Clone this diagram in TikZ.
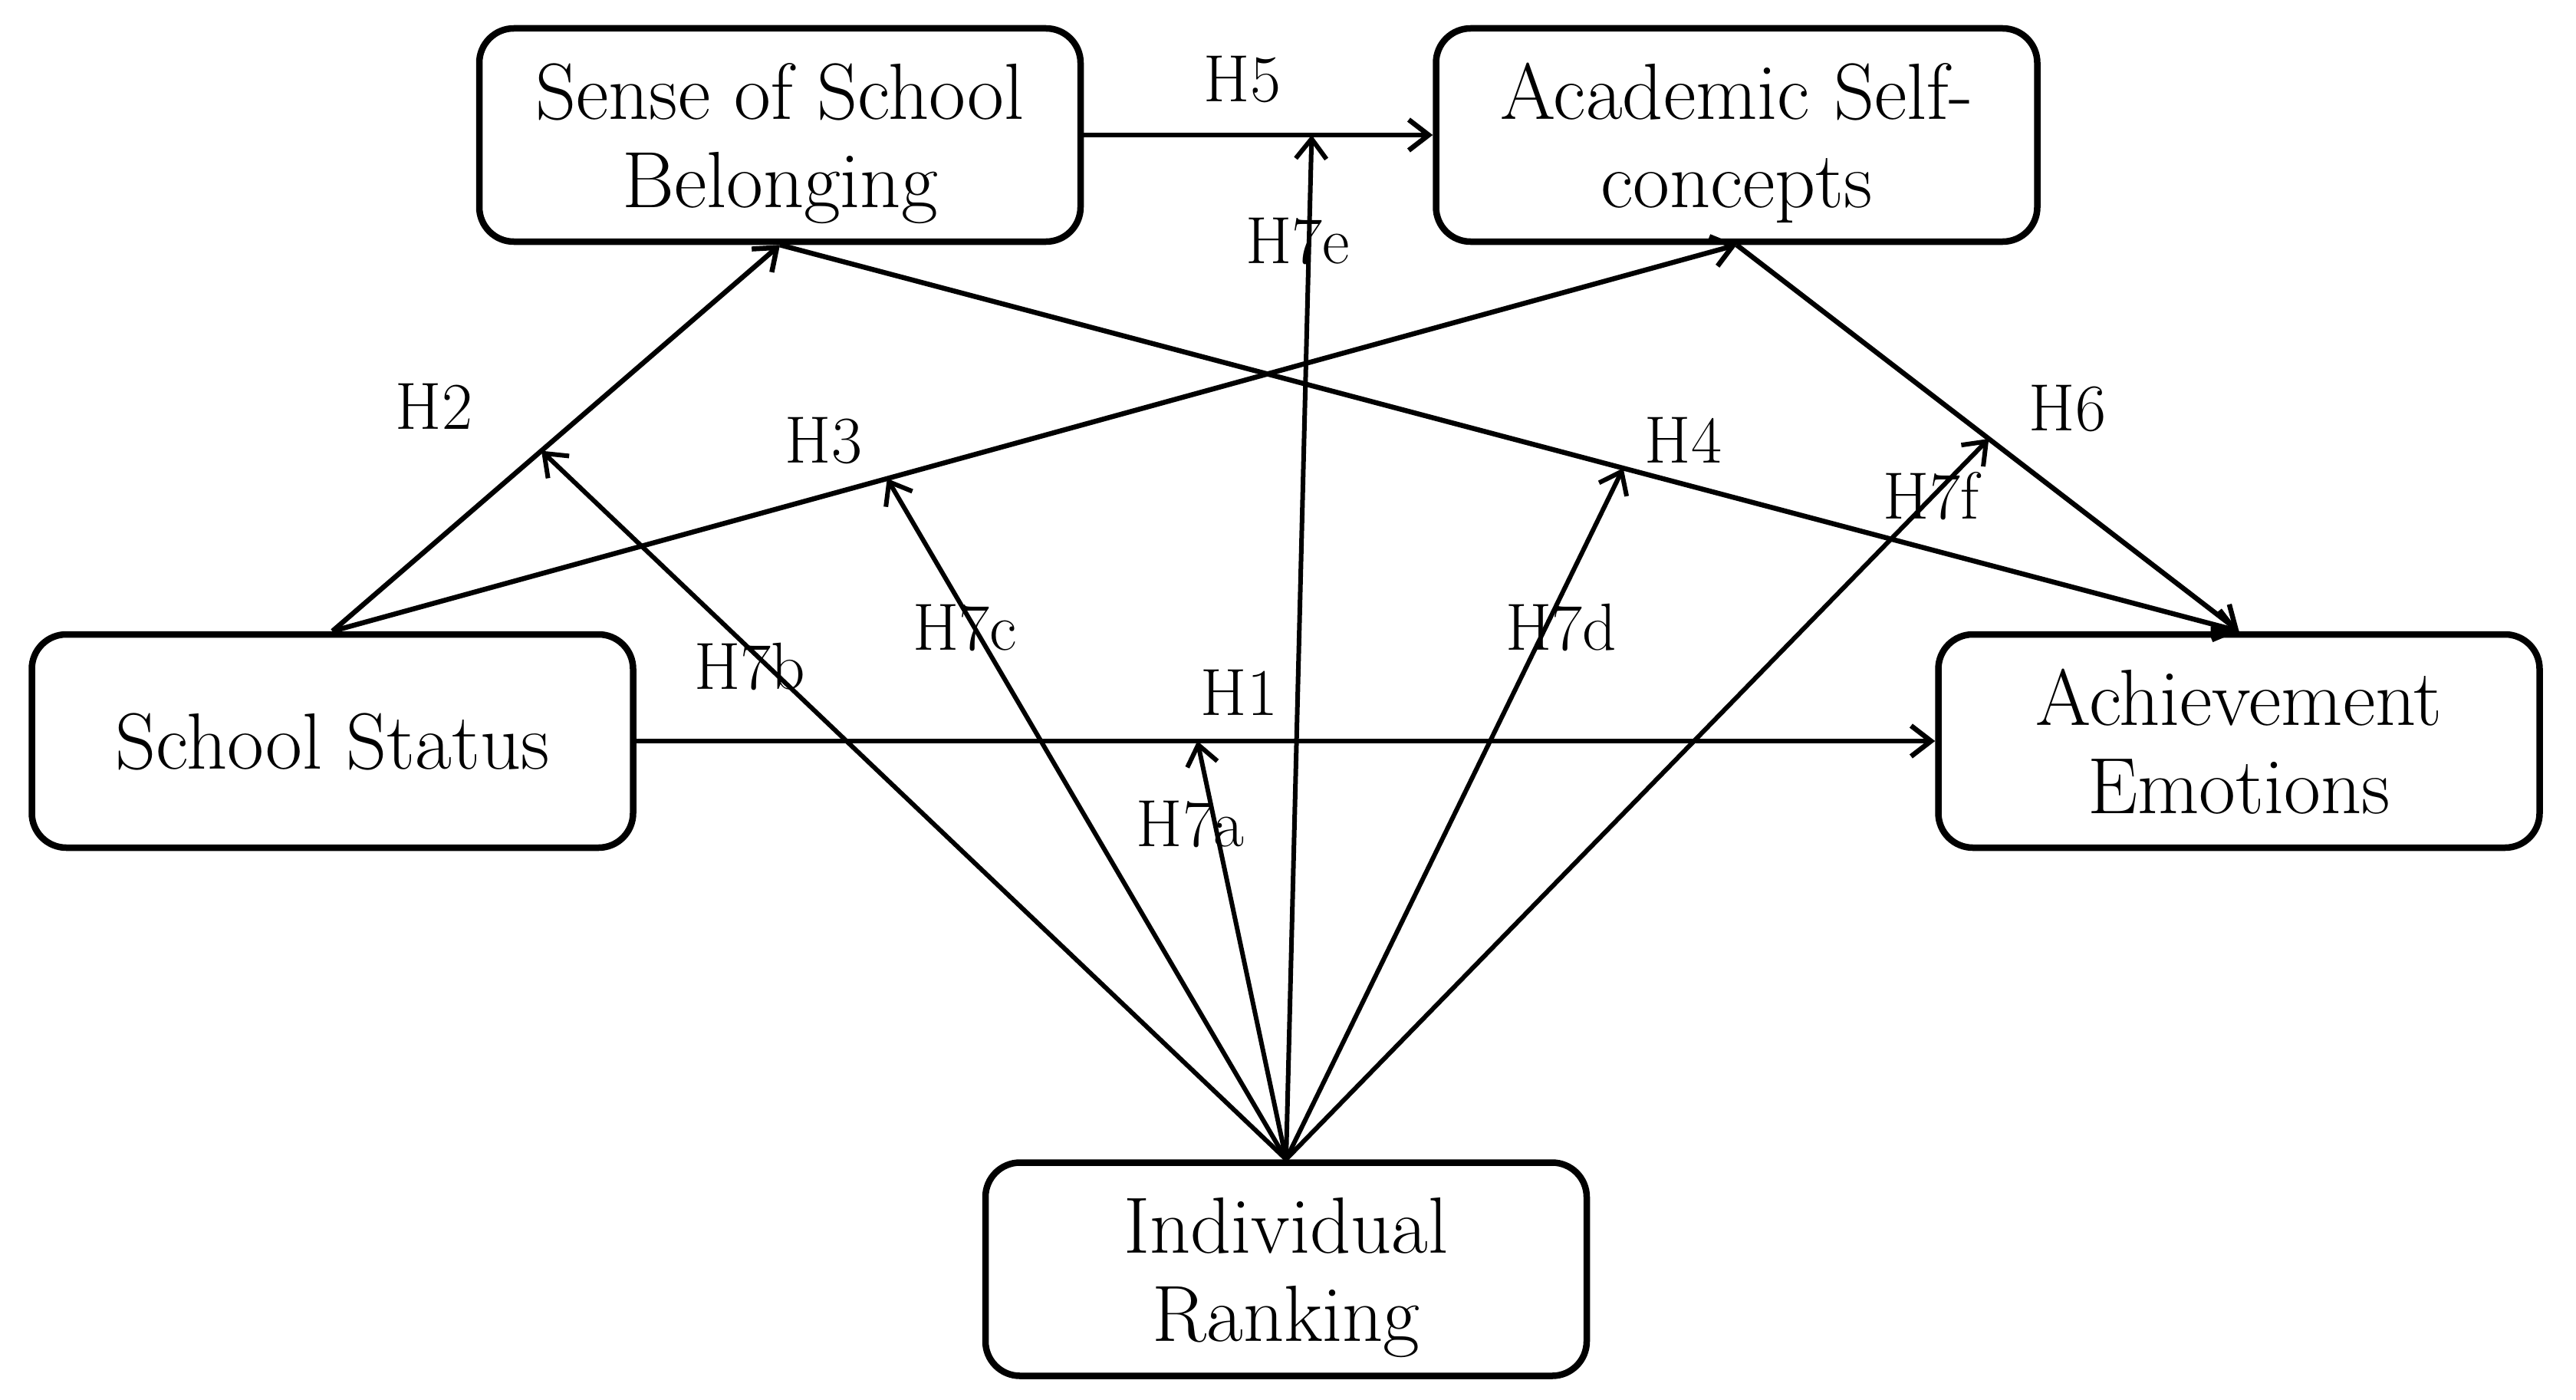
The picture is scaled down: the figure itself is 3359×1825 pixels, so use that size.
\documentclass[tikz,border=0pt]{standalone}
\usetikzlibrary{arrows.meta}
\begin{document}
\begin{tikzpicture}[x=1pt,y=-1pt,
  box/.style={draw, line width=8.5pt, rounded corners=45pt, minimum width=784pt, minimum height=278pt, align=center, inner sep=0pt, text depth=0pt, font=\fontsize{104}{115}\selectfont},
  lbl/.style={inner sep=0pt, font=\fontsize{87}{100}\selectfont},
  arr/.style={line width=6.5pt, -{Straight Barb[length=26pt,width=40pt]}},
  harr/.style={line width=6pt, -{Straight Barb[length=26pt,width=40pt]}}]
\useasboundingbox (0,0) rectangle (3359,1825);
% boxes
\node[box] (ssb) at (1017,176) {Sense of School\\Belonging};
\node[box] (asc) at (2264.5,176) {Academic Self-\\concepts};
\node[box] (ss) at (433.5,966) {School Status};
\node[box] (ae) at (2919.5,966) {Achievement\\Emotions};
\node[box] (ir) at (1677,1654.5) {Individual\\Ranking};
% main paths
\draw[arr] (ssb.east) -- (asc.west) coordinate[pos=0.653] (m5);
\draw[arr] (ss.north) -- (ssb.south) coordinate[pos=0.467] (m2);
\draw[arr] (ss.north) -- (asc.south) coordinate[pos=0.395] (m3);
\draw[arr] (ssb.south) -- (ae.north) coordinate[pos=0.578] (m4);
\draw[arr] (asc.south) -- (ae.north) coordinate[pos=0.502] (m6);
\draw[arr] (ss.east) -- (ae.west) coordinate[pos=0.432] (m1);
% moderation paths
\draw[harr] (ir.north) -- (m1);
\draw[harr] (ir.north) -- (m2);
\draw[harr] (ir.north) -- (m3);
\draw[harr] (ir.north) -- (m4);
\draw[harr] (ir.north) -- (m5);
\draw[harr] (ir.north) -- (m6);
% labels
\node[lbl] (l5) at (1620,103) {H5};
\node[lbl] (l7e) at (1692,314) {H7e};
\node[lbl] (l2) at (566,530) {H2};
\node[lbl] (l3) at (1074,574) {H3};
\node[lbl] (l7b) at (978,869) {H7b};
\node[lbl] (l7c) at (1258,818) {H7c};
\node[lbl] (l1) at (1616,903) {H1};
\node[lbl] (l7a) at (1552,1074) {H7a};
\node[lbl] (l6) at (2696,532) {H6};
\node[lbl] (l4) at (2195,574) {H4};
\node[lbl] (l7f) at (2518,647) {H7f};
\node[lbl] (l7d) at (2036,818) {H7d};
\end{tikzpicture}
\end{document}
